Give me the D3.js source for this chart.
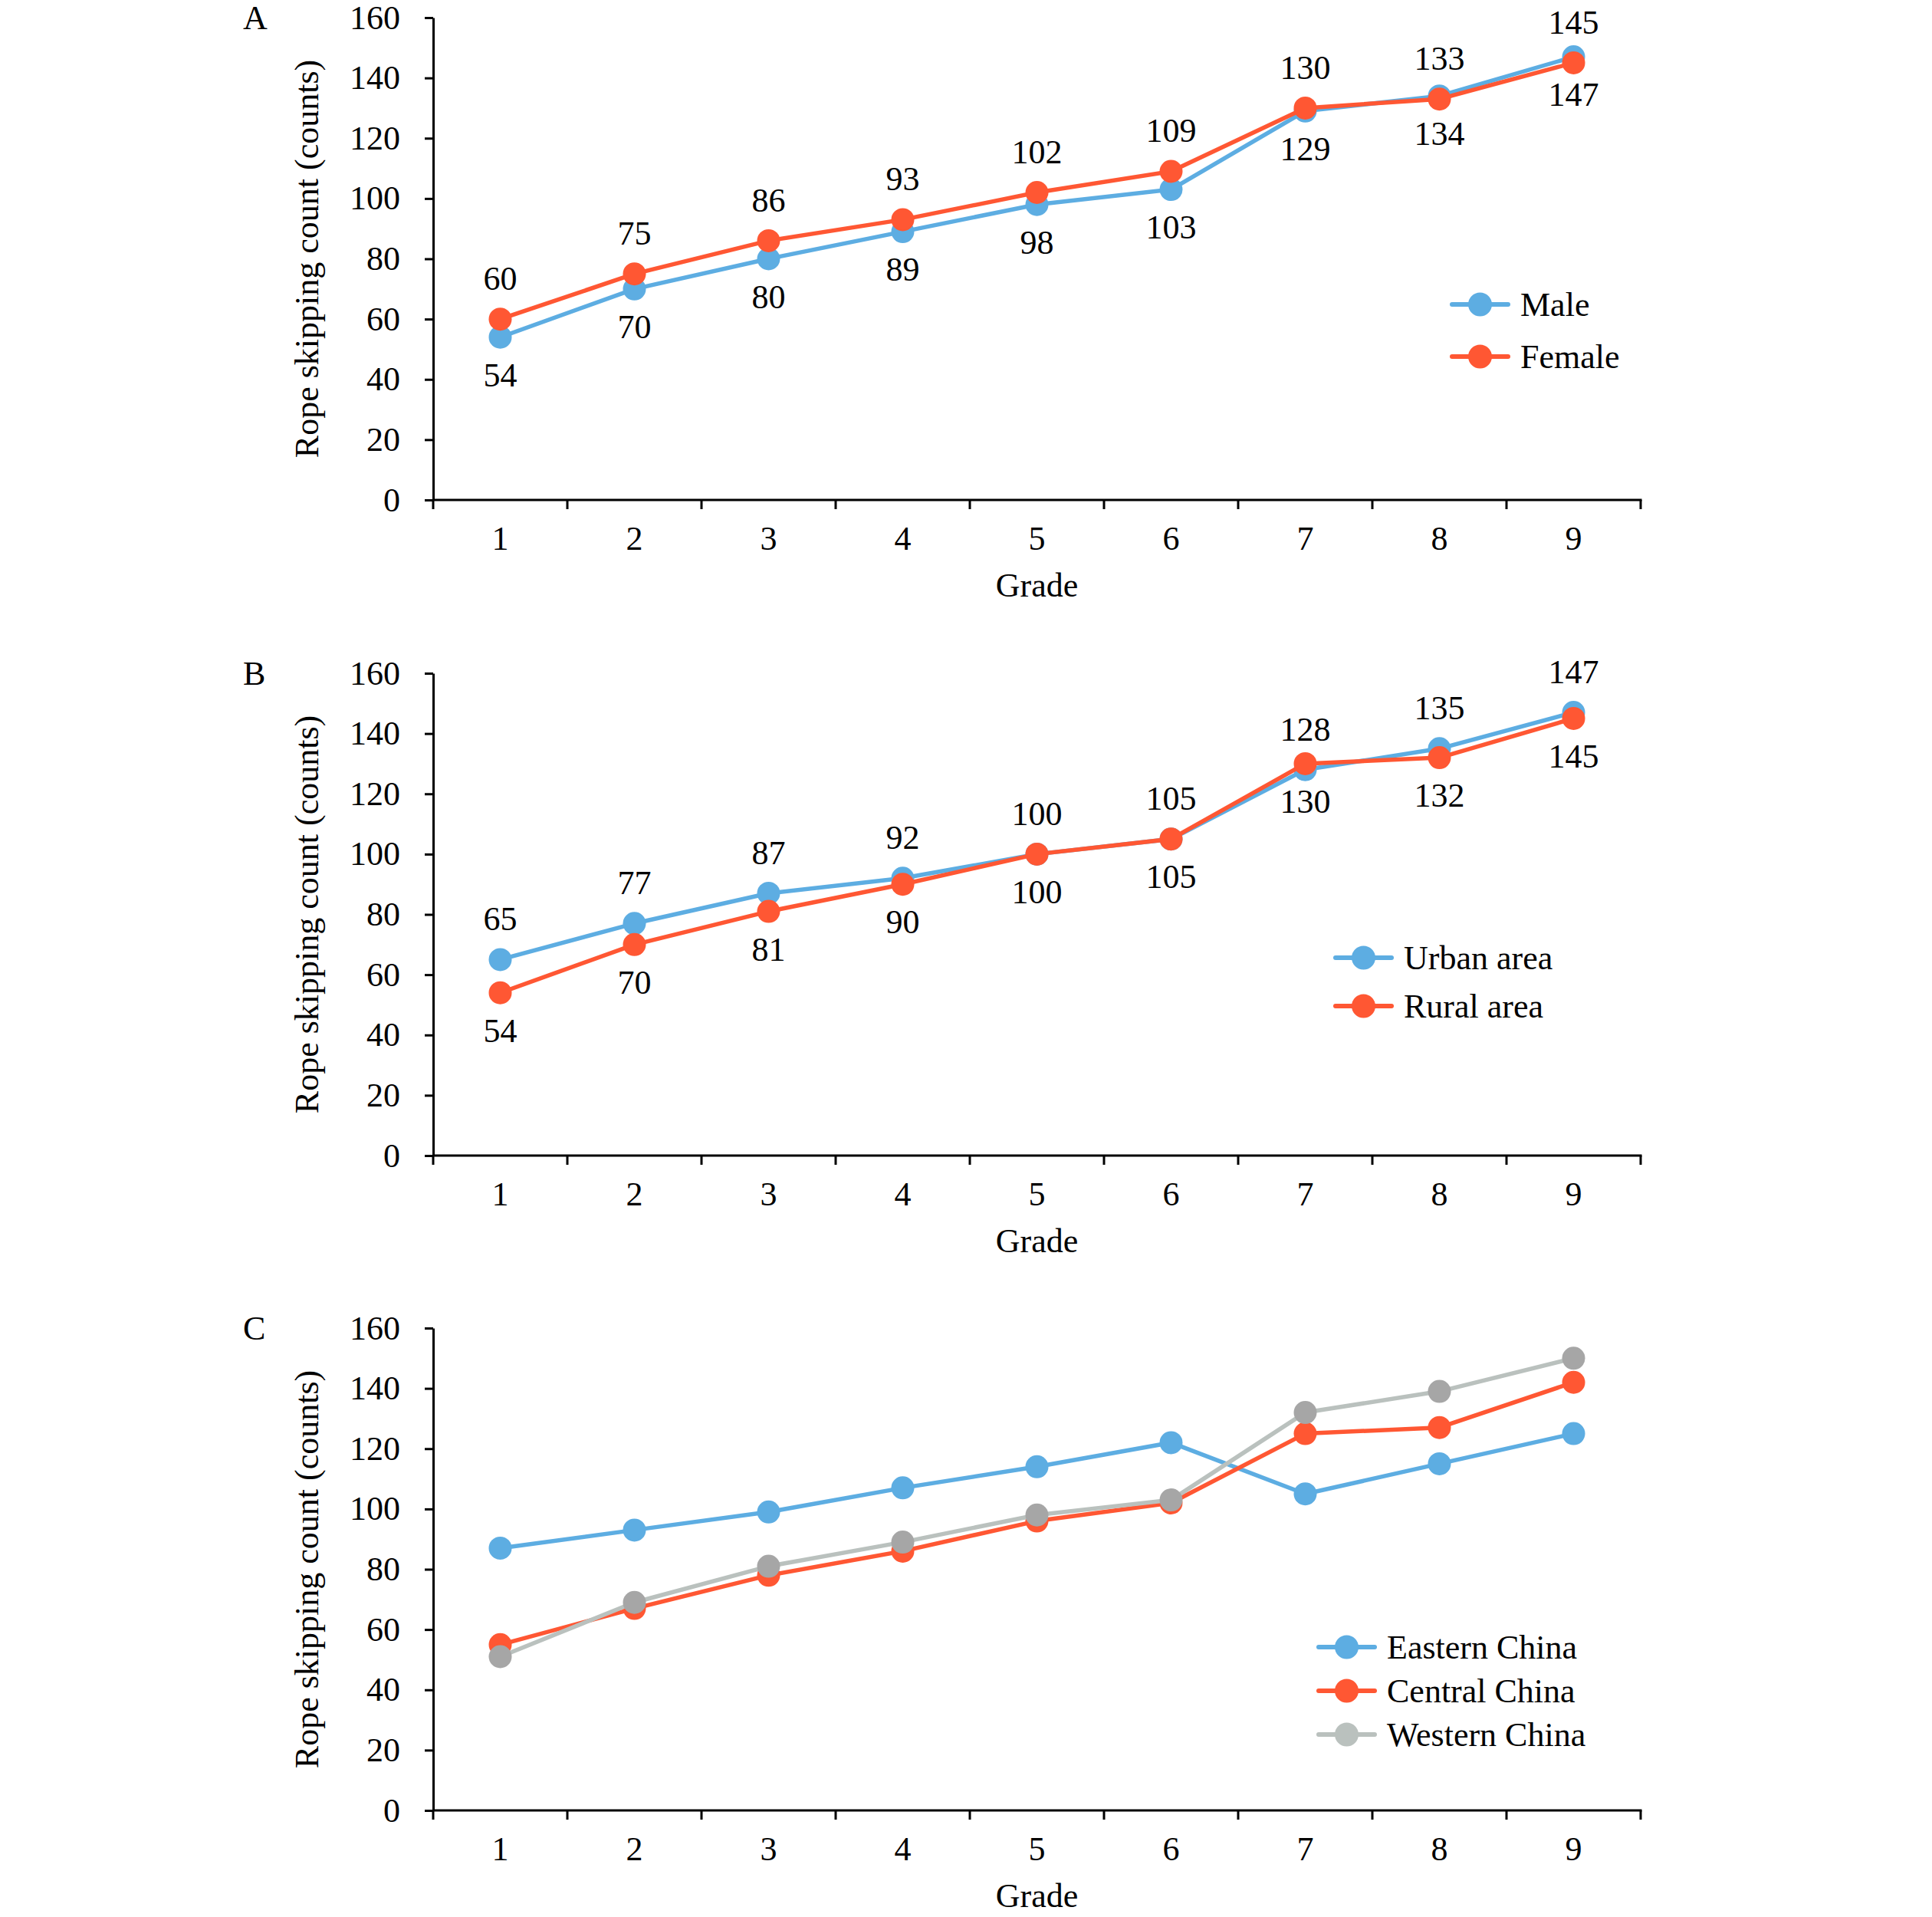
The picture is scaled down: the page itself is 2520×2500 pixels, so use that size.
<!DOCTYPE html>
<html>
<head>
<meta charset="utf-8">
<script src="https://cdn.jsdelivr.net/npm/d3@7"></script>
<style>
  body { margin: 0; background: #fff; }
  svg text { font-family: 'Liberation Serif', 'Times New Roman', serif; fill: #000; }
</style>
</head>
<body>
<svg id="chart" width="2520" height="2500"></svg>
<script>
// data
const grades = ['1', '2', '3', '4', '5', '6', '7', '8', '9']
const yTicks = [0, 20, 40, 60, 80, 100, 120, 140, 160]

const male = [54, 70, 80, 89, 98, 103, 129, 134, 147]
const female = [60, 75, 86, 93, 102, 109, 130, 133, 145]

const urban = [65, 77, 87, 92, 100, 105, 128, 135, 147]
const rural = [54, 70, 81, 90, 100, 105, 130, 132, 145]

const eastern = [87, 93, 99, 107, 114, 122, 105, 115, 125]
const central = [55, 67, 78, 86, 96, 102, 125, 127, 142]
const western = [51, 69, 81, 89, 98, 103, 132, 139, 150]

const BLUE = '#5dade2'
const RED = '#ff5733'
const GRAY_LINE = '#bac1be'
const GRAY_DOT = '#a6a6a6'

const panels = [
  {
    letter: 'A', top: 23,
    legend: {x: 1894, rows: [374, 442]},
    series: [
      {name: 'Male', values: male, color: BLUE, dot: BLUE, label: 'below'},
      {name: 'Female', values: female, color: RED, dot: RED, label: 'above'}
    ]
  },
  {
    letter: 'B', top: 878,
    legend: {x: 1742, rows: [371, 434]},
    series: [
      {name: 'Urban area', values: urban, color: BLUE, dot: BLUE, label: 'above'},
      {name: 'Rural area', values: rural, color: RED, dot: RED, label: 'below'}
    ]
  },
  {
    letter: 'C', top: 1732,
    legend: {x: 1720, rows: [416, 473, 530]},
    series: [
      {name: 'Eastern China', values: eastern, color: BLUE, dot: BLUE},
      {name: 'Central China', values: central, color: RED, dot: RED},
      {name: 'Western China', values: western, color: GRAY_LINE, dot: GRAY_DOT, legendDot: GRAY_LINE}
    ]
  }
]

const svg = d3.select('#chart')
const left = 565
const right = 2140
const plotH = 629
const FONT = 44

function drawPanel (p) {
  const g = svg.append('g').attr('transform', 'translate(0,' + p.top + ')')

  const x = d3.scaleBand().domain(grades).range([left, right])
  const y = d3.scaleLinear().domain([0, 160]).range([plotH, 0])
  const cx = d => x(d) + x.bandwidth() / 2

  // y axis
  const yAxis = g.append('g')
    .attr('transform', 'translate(' + left + ',0)')
    .call(d3.axisLeft(y).tickValues(yTicks).tickSize(11).tickSizeOuter(0).tickPadding(32))
  yAxis.select('.domain').attr('stroke', '#000').attr('stroke-width', 3)
  yAxis.selectAll('.tick line').attr('stroke', '#000').attr('stroke-width', 3)
  yAxis.selectAll('.tick text')
    .attr('font-size', FONT)
    .attr('font-family', 'Liberation Serif')
    .attr('fill', '#000')

  // x axis: line, ticks at band edges, labels at band centres
  const xAxis = g.append('g').attr('transform', 'translate(0,' + plotH + ')')
  xAxis.append('line')
    .attr('x1', left).attr('x2', right + 1.5)
    .attr('stroke', '#000').attr('stroke-width', 3)
  const edges = grades.map(d => x(d)).concat([right])
  xAxis.selectAll('.edge').data(edges).join('line')
    .attr('class', 'edge')
    .attr('x1', d => d).attr('x2', d => d)
    .attr('y1', 0).attr('y2', 12)
    .attr('stroke', '#000').attr('stroke-width', 3)
  xAxis.selectAll('.lab').data(grades).join('text')
    .attr('class', 'lab')
    .attr('x', d => cx(d))
    .attr('y', 65)
    .attr('text-anchor', 'middle')
    .attr('font-size', FONT)
    .text(d => d)

  g.append('text')
    .attr('x', (left + right) / 2)
    .attr('y', plotH + 126)
    .attr('text-anchor', 'middle')
    .attr('font-size', FONT)
    .text('Grade')

  g.append('text')
    .attr('transform', 'translate(415,' + plotH / 2 + ') rotate(-90)')
    .attr('text-anchor', 'middle')
    .attr('font-size', FONT)
    .text('Rope skipping count (counts)')

  g.append('text')
    .attr('x', 317)
    .attr('y', 15)
    .attr('font-size', FONT)
    .text(p.letter)

  const line = d3.line()
    .x((d, i) => cx(grades[i]))
    .y(d => y(d))

  p.series.forEach(s => {
    g.append('path')
      .datum(s.values)
      .attr('fill', 'none')
      .attr('stroke', s.color)
      .attr('stroke-width', 5.5)
      .attr('stroke-linejoin', 'round')
      .attr('d', line)
    g.selectAll(null).data(s.values).join('circle')
      .attr('cx', (d, i) => cx(grades[i]))
      .attr('cy', d => y(d))
      .attr('r', 15)
      .attr('fill', s.dot)
  })

  // data labels
  p.series.filter(s => s.label).forEach(s => {
    g.selectAll(null).data(s.values).join('text')
      .attr('x', (d, i) => cx(grades[i]))
      .attr('y', d => s.label === 'above' ? y(d) - 38 : y(d) + 64)
      .attr('text-anchor', 'middle')
      .attr('font-size', FONT)
      .text(d => d)
  })

  // legend
  const lg = g.append('g')
  p.series.forEach((s, i) => {
    const ry = p.legend.rows[i]
    lg.append('line')
      .attr('x1', p.legend.x).attr('x2', p.legend.x + 73)
      .attr('y1', ry).attr('y2', ry)
      .attr('stroke', s.color).attr('stroke-width', 6)
      .attr('stroke-linecap', 'round')
    lg.append('circle')
      .attr('cx', p.legend.x + 36.5).attr('cy', ry)
      .attr('r', 15.5)
      .attr('fill', s.legendDot || s.dot)
    lg.append('text')
      .attr('x', p.legend.x + 89)
      .attr('y', ry + 15)
      .attr('font-size', FONT)
      .text(s.name)
  })
}

panels.forEach(drawPanel)
</script>
</body>
</html>
